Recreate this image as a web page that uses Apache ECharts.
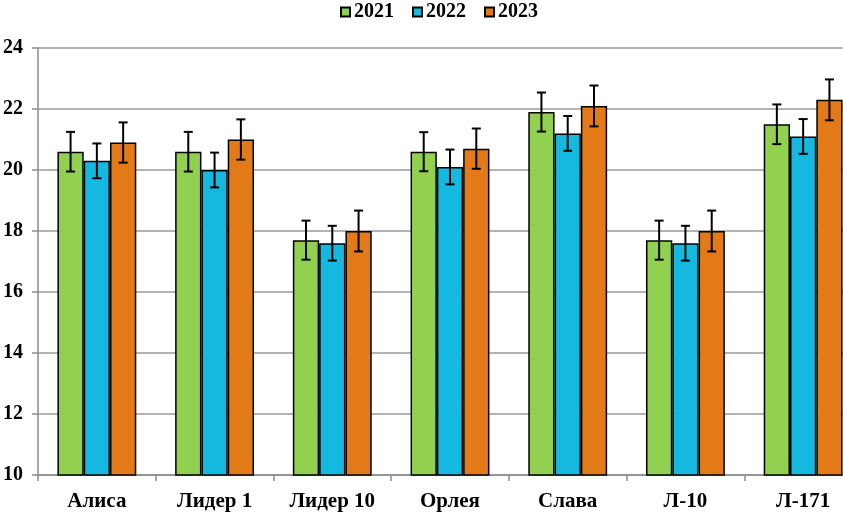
<!DOCTYPE html>
<html><head><meta charset="utf-8">
<script src="https://cdn.jsdelivr.net/npm/echarts@6/dist/echarts.min.js"></script>
<style>html,body{margin:0;padding:0;background:#fff}#c{width:843px;height:512px}</style>
</head><body><div id="c"></div>
<script>
var categories = ['Алиса','Лидер 1','Лидер 10','Орлея','Слава','Л-10','Л-171'];
var seriesNames = ['2021','2022','2023'];
var v2021 = [20.6, 20.6, 17.7, 20.6, 21.9, 17.7, 21.5];
var v2022 = [20.3, 20.0, 17.6, 20.1, 21.2, 17.6, 21.1];
var v2023 = [20.9, 21.0, 18.0, 20.7, 22.1, 18.0, 22.3];
var e2021 = [0.65, 0.65, 0.64, 0.64, 0.64, 0.64, 0.65];
var e2022 = [0.57, 0.57, 0.57, 0.57, 0.57, 0.57, 0.57];
var e2023 = [0.66, 0.66, 0.67, 0.66, 0.67, 0.67, 0.67];
var yTicks = {min: 10, max: 24, interval: 2};

var colors = ['#92D050', '#15B9E0', '#E37A18'];
var values = [v2021, v2022, v2023];
var errors = [e2021, e2022, e2023];
var catGap = 0.33;
var font = '"Liberation Serif", "Times New Roman", serif';

var series = [];
values.forEach(function (vals, i) {
  series.push({
    name: seriesNames[i], type: 'bar', data: vals,
    barGap: '0%', barCategoryGap: (catGap * 100) + '%',
    itemStyle: {color: colors[i], borderColor: '#000', borderWidth: 1.5},
    z: 2
  });
});
values.forEach(function (vals, i) {
  var data = vals.map(function (v, j) { return [j, v, errors[i][j]]; });
  series.push({
    type: 'custom', name: 'err' + i, data: data, z: 5, silent: true,
    renderItem: function (params, api) {
      var x = api.value(0), v = api.value(1), e = api.value(2);
      var band = api.size([1, 0])[0];
      var bw = band * (1 - catGap) / 3;
      var c = api.coord([x, v]);
      var cx = c[0] + (i - 1) * bw;
      var top = api.coord([x, v + e])[1];
      var bot = api.coord([x, v - e])[1];
      var cap = 4.5;
      var st = {stroke: '#000', lineWidth: 2};
      return {type: 'group', children: [
        {type: 'line', shape: {x1: cx, y1: top, x2: cx, y2: bot}, style: st},
        {type: 'line', shape: {x1: cx - cap, y1: top, x2: cx + cap, y2: top}, style: st},
        {type: 'line', shape: {x1: cx - cap, y1: bot, x2: cx + cap, y2: bot}, style: st}
      ]};
    }
  });
});

var chart = echarts.init(document.getElementById('c'));
chart.setOption({
  animation: false,
  textStyle: {fontFamily: font},
  legend: {
    data: seriesNames, top: 2, left: 340, padding: [0, 0],
    itemWidth: 9, itemHeight: 9, itemGap: 18,
    icon: 'rect',
    textStyle: {fontFamily: font, fontWeight: 'bold', fontSize: 20, color: '#000', padding: [0, 0, 0, -1]}
  },
  grid: {left: 38, top: 48, width: 824, height: 427, containLabel: false, outerBoundsMode: 'none'},
  xAxis: {
    type: 'category', data: categories,
    axisLine: {lineStyle: {color: '#8c8c8c', width: 1.5}},
    axisTick: {show: true, length: 6, lineStyle: {color: '#8c8c8c', width: 1.5}},
    axisLabel: {fontFamily: font, fontWeight: 'bold', fontSize: 21, color: '#000', margin: 16}
  },
  yAxis: {
    type: 'value', min: yTicks.min, max: yTicks.max, interval: yTicks.interval,
    axisLine: {show: true, lineStyle: {color: '#8c8c8c', width: 1.5}},
    axisTick: {show: true, length: 6, lineStyle: {color: '#8c8c8c', width: 1.5}},
    splitLine: {lineStyle: {color: '#9a9a9a', width: 1.5}},
    axisLabel: {fontFamily: font, fontWeight: 'bold', fontSize: 20, color: '#000', margin: 15}
  },
  series: series
});
</script></body></html>
